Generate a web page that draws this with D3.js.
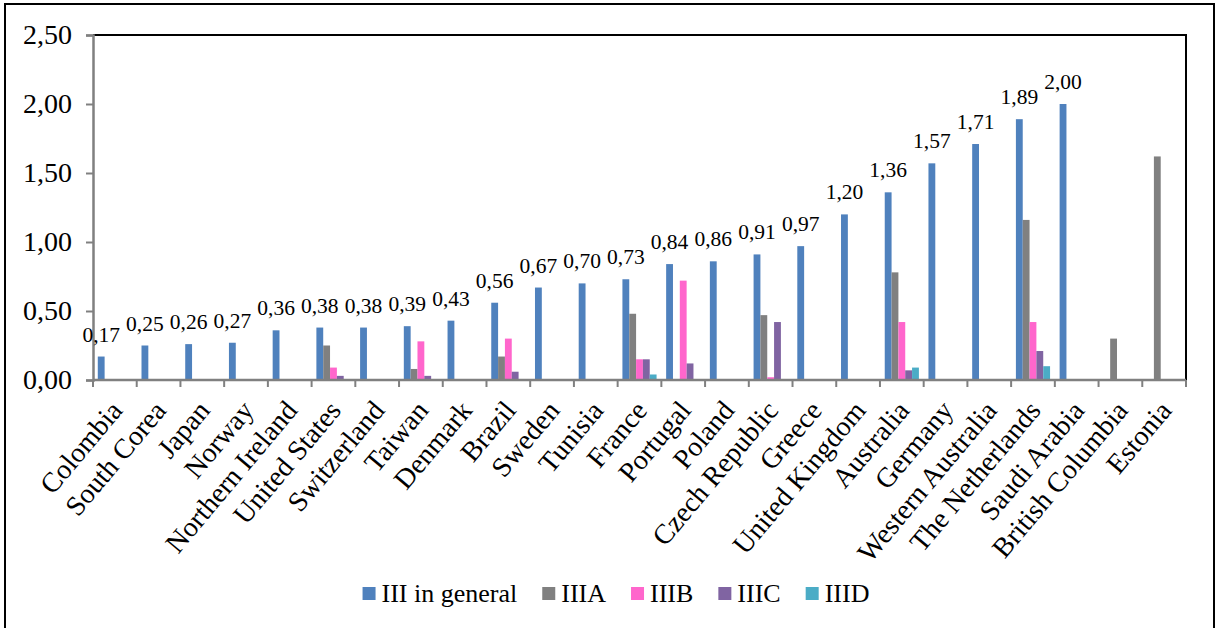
<!DOCTYPE html>
<html>
<head>
<meta charset="utf-8">
<script src="https://cdn.jsdelivr.net/npm/d3@7"></script>
<style>
  html, body { margin: 0; padding: 0; background: #fff; }
  svg { display: block; font-family: "Liberation Serif", "Times New Roman", serif; }
</style>
</head>
<body>
<svg id="chart" width="1216" height="628"></svg>
<script>
// Countries, ordered by the overall rate
const categories = [
  "Colombia", "South Corea", "Japan", "Norway", "Northern Ireland",
  "United States", "Switzerland", "Taiwan", "Denmark", "Brazil",
  "Sweden", "Tunisia", "France", "Portugal", "Poland",
  "Czech Republic", "Greece", "United Kingdom", "Australia", "Germany",
  "Western Australia", "The Netherlands", "Saudi Arabia", "British Columbia", "Estonia"
];

const seriesNames = ["III in general", "IIIA", "IIIB", "IIIC", "IIID"];
const seriesColors = ["#4F81BD", "#808080", "#FF66CC", "#8064A2", "#4BACC6"];

// null = no value reported
const valuesIII = [0.17, 0.25, 0.26, 0.27, 0.36, 0.38, 0.38, 0.39, 0.43, 0.56,
                   0.67, 0.70, 0.73, 0.84, 0.86, 0.91, 0.97, 1.20, 1.36, 1.57,
                   1.71, 1.89, 2.00, null, null];
const valuesIIIA = [null, null, null, null, null, 0.25, null, 0.08, null, 0.17,
                    null, null, 0.48, null, null, 0.47, null, null, 0.78, null,
                    null, 1.16, null, 0.30, 1.62];
const valuesIIIB = [null, null, null, null, null, 0.09, null, 0.28, null, 0.30,
                    null, null, 0.15, 0.72, null, 0.02, null, null, 0.42, null,
                    null, 0.42, null, null, null];
const valuesIIIC = [null, null, null, null, null, 0.03, null, 0.03, null, 0.06,
                    null, null, 0.15, 0.12, null, 0.42, null, null, 0.07, null,
                    null, 0.21, null, null, null];
const valuesIIID = [null, null, null, null, null, null, null, null, null, null,
                    null, null, 0.04, null, null, null, null, null, 0.09, null,
                    null, 0.10, null, null, null];

const yTicks = [0, 0.5, 1.0, 1.5, 2.0, 2.5];

const allSeries = [valuesIII, valuesIIIA, valuesIIIB, valuesIIIC, valuesIIID];
const fmt = v => v.toFixed(2).replace(".", ",");

const svg = d3.select("#chart");

// Outer frame of the chart
svg.append("rect")
  .attr("x", 5).attr("y", 4)
  .attr("width", 1209).attr("height", 640)
  .attr("fill", "none").attr("stroke", "#000").attr("stroke-width", 2);

const plot = { left: 93, right: 1186, top: 35, bottom: 380 };

const x = d3.scaleBand()
  .domain(categories)
  .range([plot.left, plot.right])
  .paddingInner(0).paddingOuter(0);

const xs = d3.scaleBand()
  .domain(seriesNames)
  .range([0, x.bandwidth()])
  .paddingInner(0).paddingOuter(0.7);

const y = d3.scaleLinear()
  .domain([0, 2.5])
  .range([plot.bottom, plot.top]);

// Plot area frame: black top and right edges
svg.append("path")
  .attr("d", `M${plot.left},${plot.top}H${plot.right}V${plot.bottom}`)
  .attr("fill", "none").attr("stroke", "#000").attr("stroke-width", 2);

// Bars
const rows = [];
allSeries.forEach((vals, si) => {
  vals.forEach((v, ci) => {
    if (v !== null) rows.push({ s: seriesNames[si], si, c: categories[ci], v });
  });
});

svg.append("g").selectAll("rect")
  .data(rows)
  .join("rect")
  .attr("x", d => x(d.c) + xs(d.s))
  .attr("y", d => y(d.v))
  .attr("width", xs.bandwidth())
  .attr("height", d => y(0) - y(d.v))
  .attr("fill", d => seriesColors[d.si]);

// Y axis
const yAxis = svg.append("g")
  .attr("transform", `translate(${plot.left},0)`)
  .call(d3.axisLeft(y).tickValues(yTicks).tickFormat(fmt).tickSize(7).tickPadding(14));
yAxis.select(".domain").attr("stroke", "#808080").attr("stroke-width", 2.5);
yAxis.selectAll(".tick line").attr("stroke", "#808080").attr("stroke-width", 2);
yAxis.selectAll(".tick text")
  .attr("font-size", 28).attr("font-family", "Liberation Serif").attr("fill", "#000");

// X axis: ticks at category boundaries
const boundaries = categories.map(c => x(c)).concat([plot.right]);
const xAxis = svg.append("g");
xAxis.append("line")
  .attr("x1", plot.left).attr("x2", plot.right)
  .attr("y1", plot.bottom).attr("y2", plot.bottom)
  .attr("stroke", "#808080").attr("stroke-width", 2.5);
xAxis.selectAll("line.tk")
  .data(boundaries)
  .join("line").attr("class", "tk")
  .attr("x1", d => d).attr("x2", d => d)
  .attr("y1", plot.bottom).attr("y2", plot.bottom + 7)
  .attr("stroke", "#808080").attr("stroke-width", 2);

// Category labels, rotated
xAxis.selectAll("text")
  .data(categories)
  .join("text")
  .attr("transform", d => `translate(${x(d) + x.bandwidth() / 2 + 4},${plot.bottom + 27}) rotate(-50)`)
  .attr("text-anchor", "end")
  .attr("dominant-baseline", "middle")
  .attr("font-size", 28)
  .text(d => d);

// Value labels on the overall series
svg.append("g").selectAll("text")
  .data(rows.filter(d => d.si === 0))
  .join("text")
  .attr("x", d => x(d.c) + xs(d.s) + xs.bandwidth() / 2)
  .attr("y", d => y(d.v) - 15)
  .attr("text-anchor", "middle")
  .attr("font-size", 21.5)
  .text(d => fmt(d.v));

// Legend
const legend = svg.append("g");
const items = legend.selectAll("g")
  .data(seriesNames)
  .join("g");
items.append("rect")
  .attr("width", 13).attr("height", 13)
  .attr("y", -7)
  .attr("fill", (d, i) => seriesColors[i]);
items.append("text")
  .attr("x", 19)
  .attr("y", 8)
  .attr("font-size", 26)
  .text(d => d);
let cx = 0;
const offsets = [];
items.each(function () {
  offsets.push(cx);
  const w = d3.select(this).select("text").node().getComputedTextLength();
  cx += 19 + w + 25;
});
const totalW = cx - 25;
const startX = 616 - totalW / 2;
items.attr("transform", (d, i) => `translate(${startX + offsets[i]},594)`);
</script>
</body>
</html>
